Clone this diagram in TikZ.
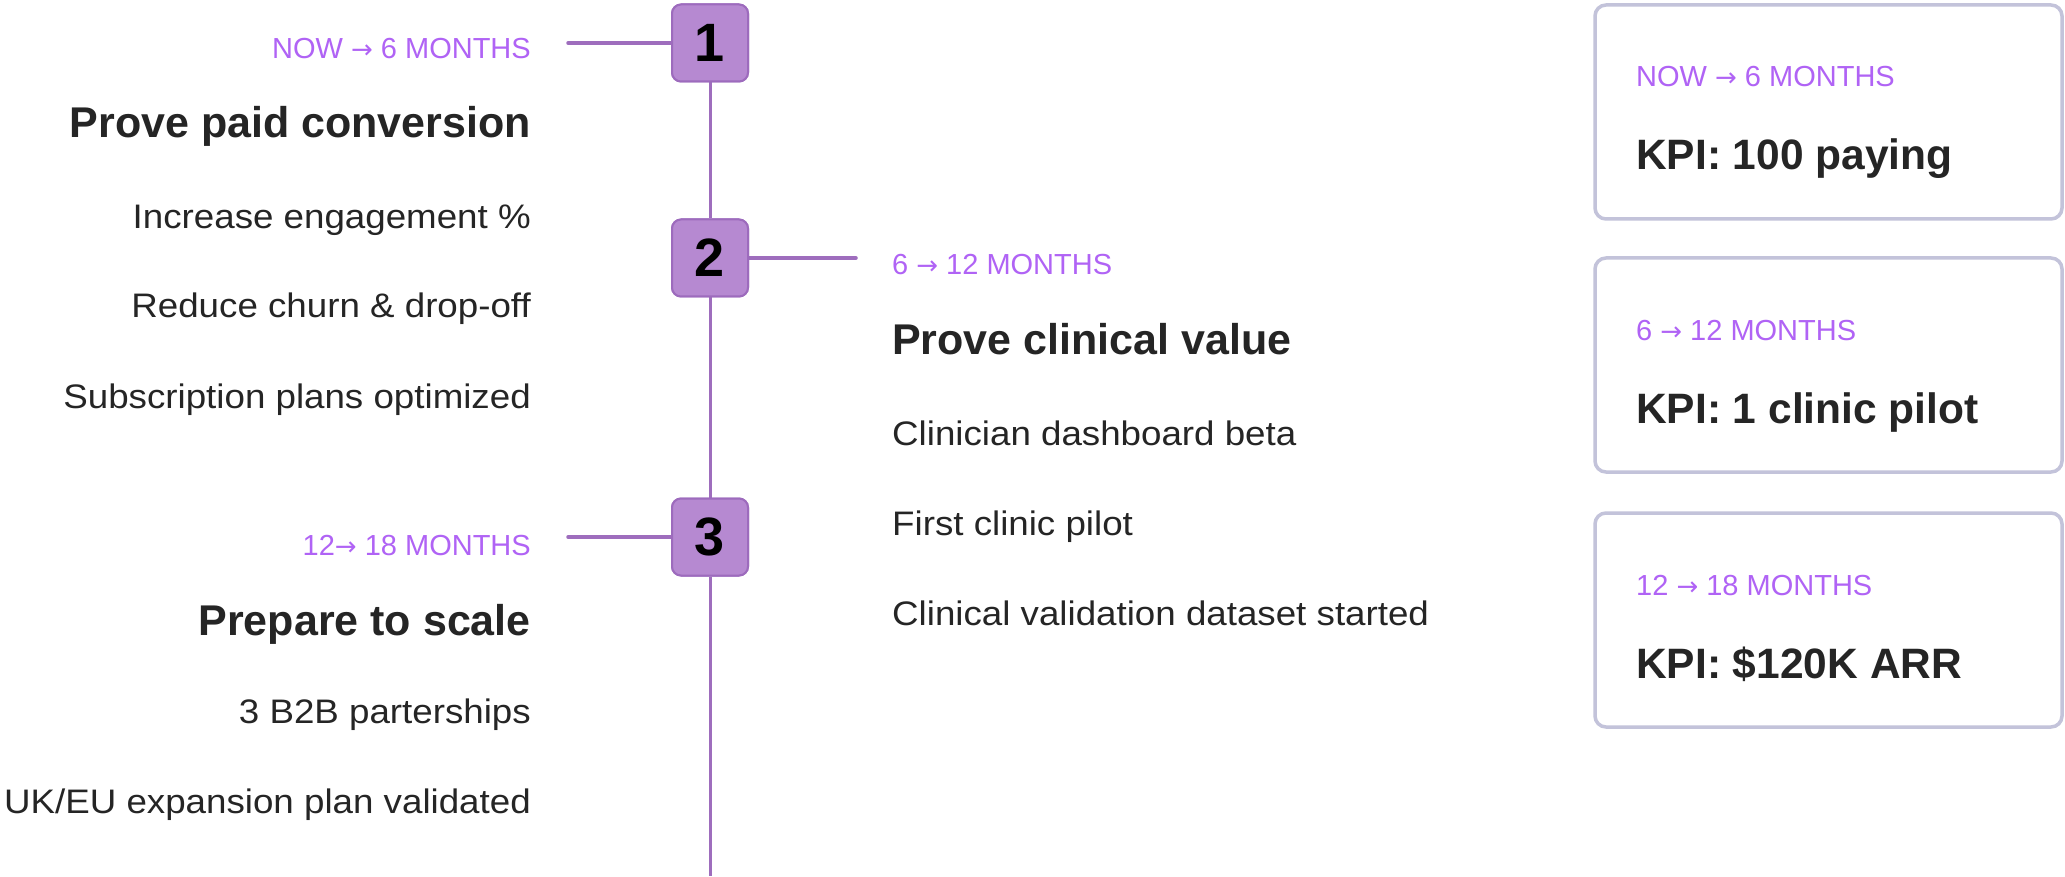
\documentclass[tikz,border=0pt]{standalone}
\usepackage{fontspec}
\setmainfont{Liberation Sans}
\newfontfamily\regf[FakeStretch=1.08]{Liberation Sans}
\newfontfamily\labf{Liberation Sans}
\newfontfamily\arrf{DejaVu Sans}
\newcommand\arr{{\arrf\fontsize{26}{28}\selectfont →}}
\definecolor{lab}{HTML}{B063F5}
\definecolor{dark}{HTML}{252525}
\definecolor{numfill}{HTML}{B689D1}
\definecolor{numdraw}{HTML}{9D6BBD}
\definecolor{tline}{HTML}{9E6DBD}
\definecolor{kbox}{HTML}{C3C3DA}
\tikzset{
  lbl/.style={text=lab, font=\labf\fontsize{29}{32}\selectfont, inner sep=0pt},
  head/.style={text=dark, font=\bfseries\fontsize{43}{48}\selectfont, inner sep=0pt},
  item/.style={text=dark, font=\regf\fontsize{34}{38}\selectfont, inner sep=0pt},
  kpi/.style={text=dark, font=\bfseries\fontsize{42.5}{48}\selectfont, inner sep=0pt},
  numbox/.style={fill=numfill, draw=numdraw, line width=2pt, rounded corners=9pt,
    minimum width=76pt, minimum height=77pt, inner sep=0pt, text=black,
    font=\bfseries\fontsize{54}{60}\selectfont},
  kpibox/.style={draw=kbox, line width=3.5pt, rounded corners=11pt, fill=white},
  conn/.style={draw=tline, line width=3.5pt, line cap=round},
}
\begin{document}
\begin{tikzpicture}[x=1pt, y=-1pt]
\useasboundingbox[fill=white] (0,0) rectangle (2065,877);
% timeline
\coordinate (bottom) at (710,876);
\coordinate (c1) at (568,43);
\coordinate (c2) at (856,258);
\coordinate (c3) at (568,537);
\node[numbox] (n1) at (710,43) {};
\node[numbox] (n2) at (710,258) {};
\node[numbox] (n3) at (710,537) {};
\draw[draw=tline, line width=3pt] (n1.south) -- (n2.north);
\draw[draw=tline, line width=3pt] (n2.south) -- (n3.north);
\draw[draw=tline, line width=3pt] (n3.south) -- (bottom);
\draw[conn] (c1) -- (n1.west);
\draw[conn] (n2.east) -- (c2);
\draw[conn] (c3) -- (n3.west);
\node[numbox] at (n1) {1};
\node[numbox] at (n2) {2};
\node[numbox] at (n3) {3};
% left column, phase 1
\node[lbl, anchor=base east] (l1) at (531,59) {NOW \arr\ 6 MONTHS};
\node[head, anchor=base east] (h1) at (531,138) {Prove paid conversion};
\node[item, anchor=base east] (i11) at (531,229) {Increase engagement \%};
\node[item, anchor=base east] (i12) at (531,318) {Reduce churn \& drop-off};
\node[item, anchor=base east] (i13) at (531,408) {Subscription plans optimized};
% left column, phase 3
\node[lbl, anchor=base east] (l3) at (531,555) {12\arr\ 18 MONTHS};
\node[head, anchor=base east] (h3) at (531,635) {Prepare to scale};
\node[item, anchor=base east] (i31) at (531,723) {3 B2B parterships};
\node[item, anchor=base east] (i32) at (531,813) {UK/EU expansion plan validated};
% middle column, phase 2
\node[lbl, anchor=base west] (l2) at (892,275) {6 \arr\ 12 MONTHS};
\node[head, anchor=base west] (h2) at (892,355) {Prove clinical value};
\node[item, anchor=base west] (i21) at (892,445) {Clinician dashboard beta};
\node[item, anchor=base west] (i22) at (892,535) {First clinic pilot};
\node[item, anchor=base west] (i23) at (892,625) {Clinical validation dataset started};
% KPI boxes
\draw[kpibox] (1595,5) rectangle (2062,219);
\draw[kpibox] (1595,258) rectangle (2062,472);
\draw[kpibox] (1595,513) rectangle (2062,727);
\node[lbl, anchor=base west] (k1l) at (1636,87) {NOW \arr\ 6 MONTHS};
\node[kpi, anchor=base west] (k1) at (1636,170) {KPI: 100 paying};
\node[lbl, anchor=base west] (k2l) at (1636,341) {6 \arr\ 12 MONTHS};
\node[kpi, anchor=base west] (k2) at (1636,423) {KPI: 1 clinic pilot};
\node[lbl, anchor=base west] (k3l) at (1636,595) {12 \arr\ 18 MONTHS};
\node[kpi, anchor=base west] (k3) at (1636,678) {KPI: \$120K ARR};
\end{tikzpicture}
\end{document}
